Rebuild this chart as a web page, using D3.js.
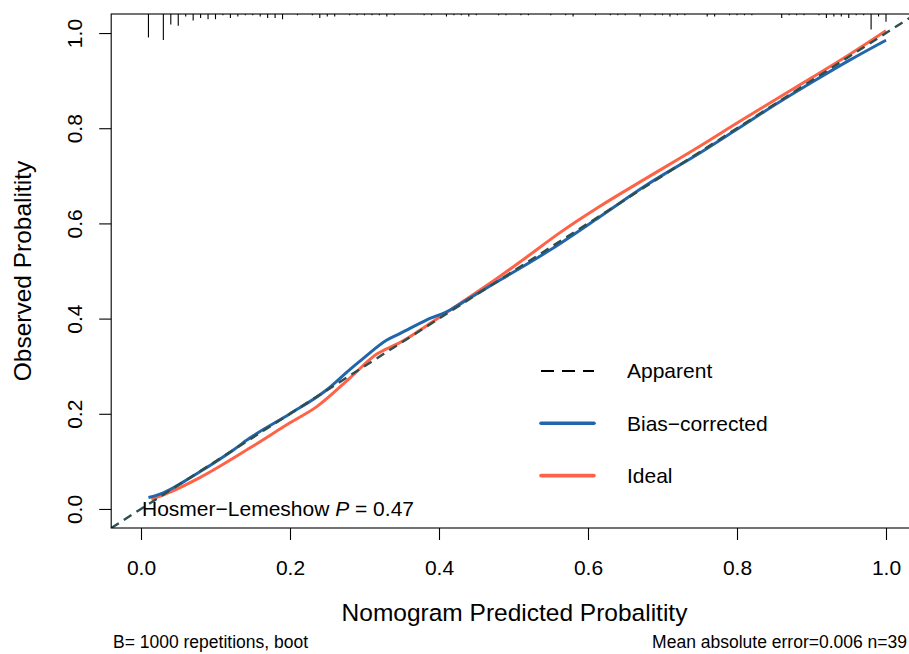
<!DOCTYPE html>
<html>
<head>
<meta charset="utf-8">
<script src="https://cdn.jsdelivr.net/npm/d3@7"></script>
<style>
  html, body { margin: 0; padding: 0; background: #fff; }
  svg { display: block; font-family: "Liberation Sans", Arial, Helvetica, sans-serif; }
</style>
</head>
<body>
<svg id="chart" width="909" height="654"></svg>
<script>
// Calibration curve data (predicted vs observed probability)
const biasX = [0.010, 0.030, 0.057, 0.079, 0.124, 0.146, 0.200, 0.249, 0.281, 0.298, 0.330, 0.348, 0.383, 0.415, 0.437, 0.482, 0.549, 0.616, 0.679, 0.750, 0.800, 0.858, 0.900, 0.950, 1.000];
const biasY = [0.024, 0.034, 0.057, 0.078, 0.124, 0.149, 0.200, 0.250, 0.294, 0.316, 0.355, 0.369, 0.397, 0.418, 0.439, 0.481, 0.544, 0.614, 0.681, 0.748, 0.798, 0.856, 0.896, 0.942, 0.985];

const idealX = [0.014, 0.034, 0.079, 0.146, 0.200, 0.236, 0.281, 0.316, 0.348, 0.392, 0.437, 0.482, 0.520, 0.560, 0.616, 0.674, 0.750, 0.800, 0.858, 0.900, 0.950, 1.000];
const idealY = [0.020, 0.032, 0.066, 0.128, 0.181, 0.215, 0.276, 0.325, 0.350, 0.394, 0.441, 0.489, 0.532, 0.578, 0.636, 0.691, 0.762, 0.811, 0.866, 0.906, 0.954, 1.005];

// Distribution of predicted probabilities (rug along the top)
const rugX = [0.01, 0.03, 0.04, 0.05, 0.06, 0.07, 0.08, 0.09, 0.10, 0.11, 0.12, 0.13, 0.14, 0.15, 0.16, 0.17, 0.18, 0.19, 0.21, 0.23, 0.24, 0.25, 0.26, 0.28, 0.29, 0.30, 0.31, 0.32, 0.33, 0.34, 0.38, 0.39, 0.41, 0.42, 0.43, 0.44, 0.45,
              0.48, 0.49, 0.51, 0.52, 0.55, 0.57, 0.58, 0.61, 0.63, 0.64, 0.65, 0.67, 0.69, 0.70, 0.71, 0.72, 0.73, 0.76, 0.77, 0.79, 0.80, 0.81, 0.82, 0.86, 0.87, 0.88, 0.89, 0.91, 0.92, 0.93, 0.94, 0.95, 0.96, 0.97, 0.98, 0.99, 1.00];
const rugN = [18, 20, 8, 9, 2, 5, 3, 4, 4, 1, 3, 2, 1, 1, 2, 3, 3, 4, 1, 1, 3, 2, 2, 1, 1, 1, 1, 1, 2, 1, 1, 1, 2, 1, 1, 2, 1,
              1, 1, 1, 1, 1, 1, 2, 1, 1, 1, 1, 2, 1, 1, 2, 1, 1, 2, 2, 1, 1, 1, 1, 3, 1, 1, 1, 1, 3, 2, 2, 3, 1, 1, 12, 2, 6];

const tickValues = [0.0, 0.2, 0.4, 0.6, 0.8, 1.0];
const legendLabels = ["Apparent", "Bias\u2212corrected", "Ideal"];
const hlText = ["Hosmer\u2212Lemeshow ", "P", " = 0.47"];
const footLeft = "B= 1000 repetitions, boot";
const footRight = "Mean absolute error=0.006 n=39";

const svg = d3.select("#chart");
const plotL = 111.2, plotR = 915.8, plotT = 14, plotB = 528;

const x = d3.scaleLinear().domain([-0.04, 1.04]).range([plotL, plotR]);
const y = d3.scaleLinear().domain([-0.04, 1.04]).range([plotB, plotT]);

const blue = "#2166ac", red = "#ff6347", slate = "#2f4f4f";

svg.append("defs").append("clipPath").attr("id", "plotclip")
  .append("rect").attr("x", plotL).attr("y", plotT).attr("width", plotR - plotL).attr("height", plotB - plotT);

const plot = svg.append("g").attr("clip-path", "url(#plotclip)");

const line = d3.line().x(d => x(d[0])).y(d => y(d[1])).curve(d3.curveMonotoneX);

// Ideal curve
plot.append("path")
  .datum(idealX.map((v, i) => [v, idealY[i]]))
  .attr("d", line).attr("fill", "none")
  .attr("stroke", red).attr("stroke-width", 3);

// Bias-corrected curve
plot.append("path")
  .datum(biasX.map((v, i) => [v, biasY[i]]))
  .attr("d", line).attr("fill", "none")
  .attr("stroke", blue).attr("stroke-width", 3);

// Apparent (diagonal reference) dashed line
plot.append("path")
  .datum([[-0.04, -0.04], [1.04, 1.04]])
  .attr("d", d3.line().x(d => x(d[0])).y(d => y(d[1])))
  .attr("fill", "none").attr("stroke", slate)
  .attr("stroke-width", 2.4).attr("stroke-dasharray", "9,6");

// Rug of predicted values hanging from the top border
const rugLen = d3.scaleLinear().domain([0, 1]).range([0, 1.3]);
svg.append("g").selectAll("line")
  .data(rugX.map((v, i) => [v, rugN[i]]))
  .join("line")
  .attr("x1", d => x(d[0])).attr("x2", d => x(d[0]))
  .attr("y1", plotT).attr("y2", d => plotT + rugLen(d[1]))
  .attr("stroke", "#000").attr("stroke-width", 1.1);

// Frame (left, top, bottom)
svg.append("rect")
  .attr("x", plotL).attr("y", plotT).attr("width", plotR - plotL).attr("height", plotB - plotT)
  .attr("fill", "none").attr("stroke", "#000").attr("stroke-width", 1.1);

// Axes
const fmt = d3.format(".1f");
const xAxis = svg.append("g").attr("transform", `translate(0,${plotB})`)
  .call(d3.axisBottom(x).tickValues(tickValues).tickFormat(fmt).tickSizeOuter(0).tickSizeInner(12).tickPadding(0));
xAxis.select(".domain").remove();
xAxis.selectAll(".tick line").attr("stroke", "#000").attr("stroke-width", 1.1);
xAxis.selectAll(".tick text")
  .attr("y", 47).attr("dy", null)
  .attr("font-size", 21).attr("fill", "#000")
  .style("font-family", "'Liberation Sans', Arial, sans-serif");

const yAxis = svg.append("g").attr("transform", `translate(${plotL},0)`)
  .call(d3.axisLeft(y).tickValues(tickValues).tickFormat(fmt).tickSizeOuter(0).tickSizeInner(12).tickPadding(0));
yAxis.select(".domain").remove();
yAxis.selectAll(".tick line").attr("stroke", "#000").attr("stroke-width", 1.1);
yAxis.selectAll(".tick text")
  .attr("x", null).attr("dy", null)
  .attr("text-anchor", "middle")
  .attr("transform", `translate(${82 - plotL},0) rotate(-90)`)
  .attr("font-size", 21).attr("fill", "#000")
  .style("font-family", "'Liberation Sans', Arial, sans-serif");

// Axis titles
svg.append("text")
  .attr("x", (plotL + plotR) / 2 + 1).attr("y", 621)
  .attr("text-anchor", "middle").attr("font-size", 24.5)
  .text("Nomogram Predicted Probalitity");

svg.append("text")
  .attr("transform", `translate(31,${(plotT + plotB) / 2}) rotate(-90)`)
  .attr("text-anchor", "middle").attr("font-size", 24.5)
  .text("Observed Probalitity");

// Legend
const legY = [0.29, 0.18, 0.07];
const legend = svg.append("g");
legendLabels.forEach((lab, i) => {
  const ly = y(legY[i]);
  const seg = legend.append("line")
    .attr("x1", 541).attr("x2", 594).attr("y1", ly).attr("y2", ly);
  if (i === 0) {
    seg.attr("stroke", "#000").attr("stroke-width", 2).attr("stroke-dasharray", "13,8");
  } else {
    seg.attr("stroke", i === 1 ? blue : red).attr("stroke-width", 3.6).attr("stroke-linecap", "round");
  }
  legend.append("text")
    .attr("x", 627).attr("y", ly + 7.3)
    .attr("font-size", 21).text(lab);
});

// Hosmer-Lemeshow annotation
const hl = svg.append("text")
  .attr("x", x(0) + 1).attr("y", y(0) + 7.5).attr("font-size", 21);
hl.append("tspan").text(hlText[0]);
hl.append("tspan").attr("font-style", "italic").text(hlText[1]);
hl.append("tspan").text(hlText[2]);

// Footer notes
svg.append("text").attr("x", 113).attr("y", 648).attr("font-size", 17.5).text(footLeft);
svg.append("text").attr("x", 907).attr("y", 648).attr("text-anchor", "end").attr("font-size", 17.5).text(footRight);
</script>
</body>
</html>
